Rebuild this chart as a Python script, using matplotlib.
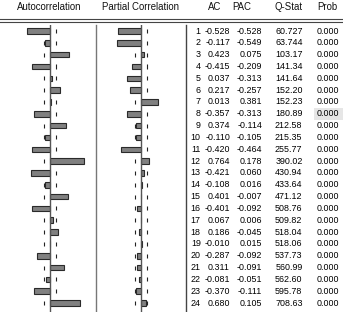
import matplotlib
matplotlib.use('Agg')
import matplotlib.pyplot as plt
from matplotlib.patches import Rectangle
from matplotlib.lines import Line2D

plt.rcParams['font.family'] = ['Liberation Sans', 'DejaVu Sans']

# correlogram values
lags = list(range(1, 25))
ac = [-0.528, -0.117, 0.423, -0.415, 0.037, 0.217, 0.013, -0.357, 0.374, -0.110,
      -0.420, 0.764, -0.421, -0.108, 0.401, -0.401, 0.067, 0.186, -0.010, -0.287,
      0.311, -0.081, -0.370, 0.680]
pac = [-0.528, -0.549, 0.075, -0.209, -0.313, -0.257, 0.381, -0.313, -0.114, -0.105,
       -0.464, 0.178, 0.060, 0.016, -0.007, -0.092, 0.006, -0.045, 0.015, -0.092,
       -0.091, -0.051, -0.111, 0.105]
qstat = ['60.727', '63.744', '103.17', '141.34', '141.64', '152.20', '152.23', '180.89',
         '212.58', '215.35', '255.77', '390.02', '430.94', '433.64', '471.12', '508.76',
         '509.82', '518.04', '518.06', '537.73', '560.99', '562.60', '595.78', '708.63']
prob = ['0.000'] * 24
BOUND = 0.136   # approx 2/sqrt(T)

W, H = 343, 312
fig = plt.figure(figsize=(W / 100, H / 100), dpi=100)

ROW0, ROWSTEP = 31.0, 11.83
TOP, BOT = 25.0, 312.0
ylo = 1 + (TOP - ROW0) / ROWSTEP
yhi = 1 + (BOT - ROW0) / ROWSTEP
SCALE = 44.0   # px per unit correlation


def add_ax(x0, x1):
    return fig.add_axes([x0 / W, (H - BOT) / H, (x1 - x0) / W, (BOT - TOP) / H])


def corr_panel(x0, x1, zero_px, vals):
    ax = add_ax(x0, x1)
    ax.set_xlim((x0 - zero_px) / SCALE, (x1 - zero_px) / SCALE)
    ax.set_ylim(yhi, ylo)
    ax.axis('off')
    for lag in lags:
        ax.vlines([-BOUND, BOUND], lag - 0.17, lag + 0.17, color='#222222', lw=0.8)
    ax.barh(lags, vals, height=0.47, color='#808080', edgecolor='#2a2a2a',
            linewidth=0.8, zorder=3)
    ax.axvline(0, color='#555555', lw=1.0, zorder=4)
    return ax


corr_panel(0, 96, 50, ac)
corr_panel(96, 186, 141, pac)

# table part
tab = add_ax(186, W)
tab.set_xlim(186, W)
tab.set_ylim(yhi, ylo)
tab.axis('off')
tab.add_patch(Rectangle((314, 8 - 0.5), 29, 1.0, facecolor='#e6e6e6', edgecolor='none'))
for i, lag in enumerate(lags):
    kw = dict(ha='right', va='center', fontsize=6.4, color='black')
    tab.text(200.8, lag, str(lag), **kw)
    tab.text(230.0, lag, f'{ac[i]:.3f}', **kw)
    tab.text(262.0, lag, f'{pac[i]:.3f}', **kw)
    tab.text(302.5, lag, qstat[i], **kw)
    tab.text(339.5, lag, prob[i], **kw)

# separators
for xp, col in [(96, '#777777'), (186, '#444444')]:
    fig.add_artist(Line2D([xp / W, xp / W], [0, (H - TOP) / H], color=col, lw=1.0))
for yp in (19, 22):
    fig.add_artist(Line2D([0, 1], [(H - yp) / H, (H - yp) / H], color='#444444', lw=0.8))

# headers
hy = (H - 7.5) / H
for xp, txt in [(49.5, 'Autocorrelation'), (141, 'Partial Correlation'), (215, 'AC'),
                (242, 'PAC'), (289, 'Q-Stat'), (327, 'Prob')]:
    fig.text(xp / W, hy, txt, ha='center', va='center', fontsize=6.9, color='#111111')

fig.savefig('out.png', dpi=100)
